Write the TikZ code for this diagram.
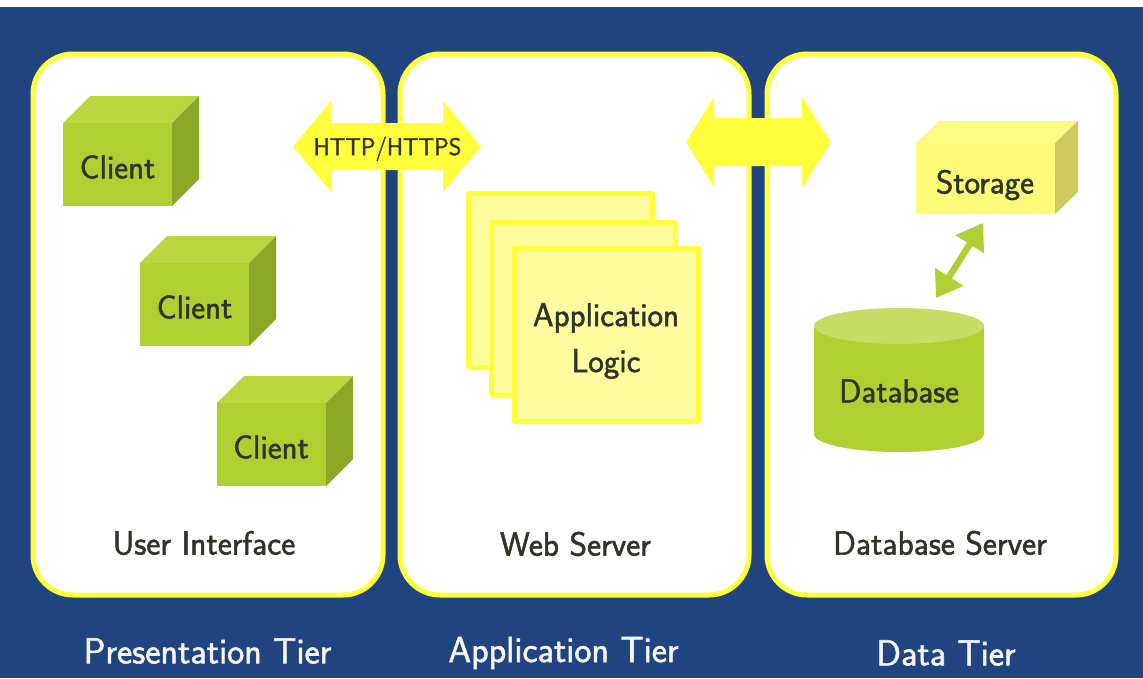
\documentclass[tikz,border=0pt]{standalone}
\usepackage{fontspec}
\setsansfont[BoldFont={Latin Modern Sans},BoldFeatures={FakeBold=1.5}]{Latin Modern Sans}
\usetikzlibrary{arrows.meta}
\definecolor{bgblue}{HTML}{204480}
\definecolor{ylw}{HTML}{FFFF3C}
\definecolor{lightylw}{HTML}{FDFD9E}
\definecolor{grn}{HTML}{B0CF30}
\definecolor{grntop}{HTML}{BCD63F}
\definecolor{dbtop}{HTML}{C6DC62}
\definecolor{grnside}{HTML}{8CA626}
\definecolor{stfront}{HTML}{FBFB78}
\definecolor{sttop}{HTML}{FCFC84}
\definecolor{stside}{HTML}{CBCB5E}
\definecolor{ink}{HTML}{2F3328}
\definecolor{pale}{HTML}{F4F6F8}
\tikzset{
  x=1pt,y=-1pt,
  panel/.style={draw=ylw,line width=5pt,fill=white,rounded corners=40pt},
  cubefront/.style={fill=grn},
  cubetop/.style={fill=grntop},
  cubeside/.style={fill=grnside},
  sheet/.style={draw=ylw,line width=5pt,fill=lightylw,rounded corners=1pt},
  bigarrow/.style={fill=ylw},
  lab/.style={font=\sffamily\bfseries\fontsize{33}{38}\selectfont,text=ink,inner sep=0pt,align=center},
  caption/.style={font=\sffamily\bfseries\fontsize{33.5}{38}\selectfont,text=ink,inner sep=0pt},
  tier/.style={font=\sffamily\bfseries\fontsize{36.3}{42}\selectfont,text=pale,inner sep=0pt},
  small/.style={font=\sffamily\bfseries\fontsize{24.3}{28}\selectfont,text=ink,inner sep=0pt},
  link/.style={draw=grn,line width=6.5pt,{Triangle[length=25pt,width=32pt]}-{Triangle[length=25pt,width=32pt]}},
}
\newcommand{\cubeat}[6]{% x0 y0 x1 y1 dx dy
  \fill[cubetop] (#1,#2) -- ++(#5,-#6) -- (#3+#5,#2-#6) -- (#3,#2) -- cycle;
  \fill[cubeside] (#3,#2) -- (#3+#5,#2-#6) -- (#3+#5,#4-#6) -- (#3,#4) -- cycle;
  \fill[cubefront] (#1,#2) rectangle (#3,#4);
}
\begin{document}
\begin{tikzpicture}
\useasboundingbox (0,0) rectangle (1143,678);
\fill[white] (0,0) rectangle (1143,678);
\fill[bgblue] (0,7) rectangle (1143,678);
% panels
\draw[panel] (33,54) rectangle (383,595);
\draw[panel] (400,54) rectangle (749,595);
\draw[panel] (767,54) rectangle (1116,595);
% clients
\cubeat{63}{123}{172}{206}{27}{27}
\cubeat{140}{263}{249}{346}{27}{27}
\cubeat{217}{403}{326}{486}{27}{27}
\node[lab] (c1) at (117.5,167) {Client};
\node[lab] (c2) at (194.5,307) {Client};
\node[lab] (c3) at (271,447) {Client};
% http arrows
\fill[bigarrow] (293,146.5) -- (331,101) -- (331,123) -- (443,123) -- (443,101) -- (481,146.5) -- (443,192) -- (443,170) -- (331,170) -- (331,192) -- cycle;
\node[small] (http) at (387.5,149) {HTTP/HTTPS};
\fill[bigarrow] (686,142) -- (714,97) -- (714,118) -- (802,118) -- (802,97) -- (831,142) -- (802,187) -- (802,166) -- (714,166) -- (714,187) -- cycle;
% application logic
\draw[sheet] (468.5,193.5) rectangle (652.5,367.5);
\draw[sheet] (491.5,222.5) rectangle (675.5,395.5);
\draw[sheet] (514.5,248.5) rectangle (698.5,421.5);
\node[lab] (logic) at (606,341) {Application\\[8pt]Logic};
% storage
\fill[fill=sttop] (916,143) -- (939,121) -- (1078,121) -- (1055,143) -- cycle;
\fill[fill=stside] (1055,143) -- (1078,121) -- (1078,192) -- (1055,214) -- cycle;
\fill[fill=stfront] (916,143) rectangle (1055,214);
\node[lab] (storage) at (985,185) {Storage};
% database
\fill[grn] (899,434) ellipse[x radius=85,y radius=18];
\fill[grn] (814,326) rectangle (984,434);
\fill[dbtop] (899,326) ellipse[x radius=85,y radius=18];
\node[lab] (db) at (899,391) {Database};
\coordinate (stEnd) at (983,223);
\coordinate (dbEnd) at (936,298);
\draw[link] (dbEnd) -- (stEnd);
% captions
\node[caption] (ui) at (204,543) {User Interface};
\node[caption] (ws) at (575.5,544) {Web Server};
\node[caption] (ds) at (940,543) {Database Server};
\node[tier] (t1) at (207.5,651) {Presentation Tier};
\node[tier] (t2) at (563.5,653) {Application Tier};
\node[tier] (t3) at (946,653) {Data Tier};
\end{tikzpicture}
\end{document}
